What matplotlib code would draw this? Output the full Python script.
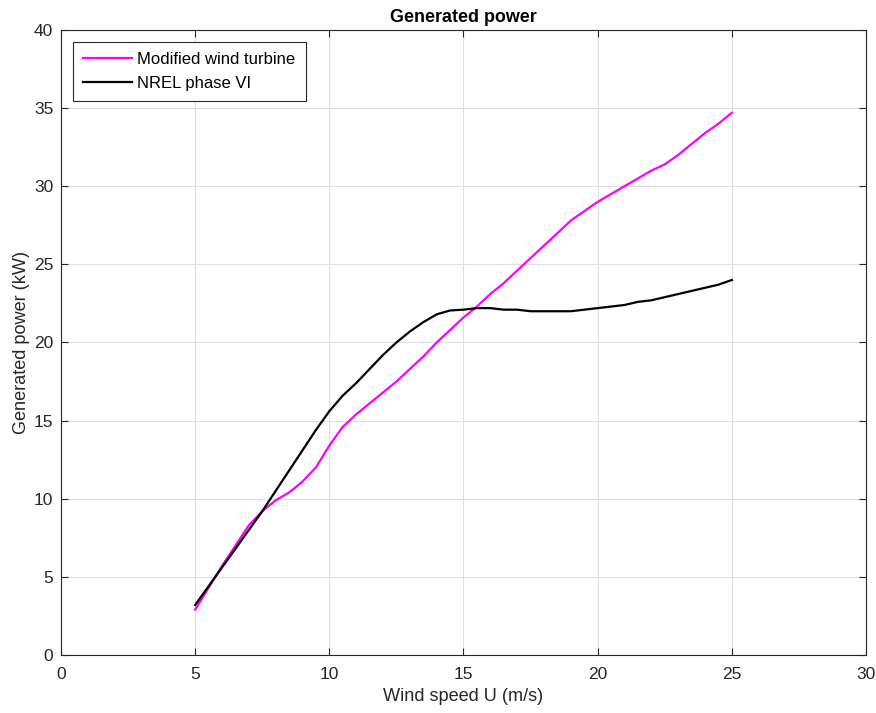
import matplotlib
matplotlib.use("Agg")
import matplotlib.pyplot as plt

plt.rcParams['font.family'] = ['Liberation Sans', 'DejaVu Sans']

wind_speed = [5, 5.5, 6, 6.5, 7, 7.5, 8, 8.5, 9, 9.5, 10, 10.5, 11, 11.5, 12, 12.5,
              13, 13.5, 14, 14.5, 15, 15.5, 16, 16.5, 17, 17.5, 18, 18.5, 19, 19.5,
              20, 20.5, 21, 21.5, 22, 22.5, 23, 23.5, 24, 24.5, 25]

power_modified = [2.9, 4.3, 5.7, 7.0, 8.3, 9.2, 9.9, 10.4, 11.1, 12.0, 13.4, 14.6,
                  15.4, 16.1, 16.8, 17.5, 18.3, 19.1, 20.0, 20.8, 21.6, 22.3, 23.1,
                  23.8, 24.6, 25.4, 26.2, 27.0, 27.8, 28.4, 29.0, 29.5, 30.0, 30.5,
                  31.0, 31.4, 32.0, 32.7, 33.4, 34.0, 34.7]

power_nrel = [3.2, 4.4, 5.6, 6.8, 8.0, 9.2, 10.5, 11.8, 13.1, 14.4, 15.6, 16.6,
              17.4, 18.3, 19.2, 20.0, 20.7, 21.3, 21.8, 22.05, 22.1, 22.2, 22.2,
              22.1, 22.1, 22.0, 22.0, 22.0, 22.0, 22.1, 22.2, 22.3, 22.4, 22.6,
              22.7, 22.9, 23.1, 23.3, 23.5, 23.7, 24.0]

x_ticks = [0, 5, 10, 15, 20, 25, 30]
y_ticks = [0, 5, 10, 15, 20, 25, 30, 35, 40]

fig = plt.figure(figsize=(8.76, 7.13), dpi=100)
ax = fig.add_axes([0.0696, 0.0813, 0.919, 0.8767])

ax.plot(wind_speed, power_modified, color='#ff00ff', lw=1.6, label='Modified wind turbine')
ax.plot(wind_speed, power_nrel, color='black', lw=1.6, label='NREL phase VI')

ax.set_xlim(0, 30)
ax.set_ylim(0, 40)
ax.set_xticks(x_ticks)
ax.set_yticks(y_ticks)
ax.grid(True, color='#dfdfdf', lw=0.8)
ax.set_axisbelow(True)

ax.tick_params(direction='in', top=True, right=True, length=5, width=0.8,
               colors='#262626', labelsize=12.5)
ax.tick_params(axis='x', pad=8.5)
ax.tick_params(axis='y', pad=5.5)
for s in ax.spines.values():
    s.set_color('#262626')
    s.set_linewidth(0.8)

ax.set_xlabel('Wind speed U (m/s)', fontsize=13.1, color='#262626', labelpad=4.5)
ax.set_ylabel('Generated power (kW)', fontsize=13.1, color='#262626', labelpad=3)
ax.set_title('Generated power', fontsize=12.9, fontweight='bold', color='black', pad=5.5)

leg = ax.legend(loc='upper left', fontsize=12, frameon=True, fancybox=False,
                edgecolor='#262626', framealpha=1, borderpad=0.62, handlelength=2.95,
                handletextpad=0.3, labelspacing=0.52, borderaxespad=0,
                bbox_to_anchor=(0.0149, 0.981))
leg.get_frame().set_linewidth(0.8)

fig.savefig('out.png', dpi=100)
